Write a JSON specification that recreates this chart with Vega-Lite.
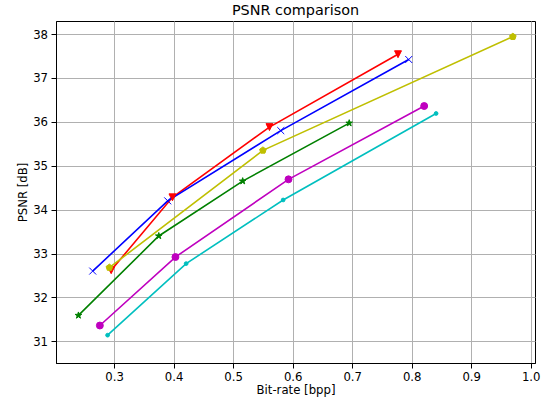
{
  "$schema": "https://vega.github.io/schema/vega-lite/v6.json",
  "width": 546,
  "height": 404,
  "autosize": {"type": "fit", "contains": "padding"},
  "padding": {"left": 17, "top": 2, "right": 6, "bottom": 7},
  "background": "white",
  "title": {"text": "PSNR comparison", "fontSize": 14.4, "fontWeight": "normal", "font": "DejaVu Sans", "color": "black", "offset": 3, "frame": "group"},
  "config": {
    "font": "DejaVu Sans",
    "view": {"stroke": "black", "strokeWidth": 1},
    "axis": {
      "grid": true,
      "gridColor": "#b0b0b0",
      "gridWidth": 1,
      "domainColor": "black",
      "tickColor": "black",
      "tickSize": 5,
      "labelColor": "black",
      "labelFontSize": 11.7,
      "titleColor": "black",
      "titleFontSize": 11.7,
      "titleFontWeight": "normal"
    },
    "legend": {
      "labelFontSize": 12,
      "labelColor": "black",
      "padding": 5,
      "rowPadding": 6,
      "fillColor": "rgba(255,255,255,0.8)",
      "strokeColor": "#cccccc",
      "symbolStrokeWidth": 1,
      "symbolSize": 46
    }
  },
  "data": {
    "values": [
      {"method": "Our", "rank": 1, "bpp": 0.295, "psnr": 32.62},
      {"method": "Our", "rank": 1, "bpp": 0.398, "psnr": 34.28},
      {"method": "Our", "rank": 1, "bpp": 0.561, "psnr": 35.88},
      {"method": "Our", "rank": 1, "bpp": 0.777, "psnr": 37.54},
      {"method": "Zou2022", "rank": 2, "bpp": 0.264, "psnr": 32.6},
      {"method": "Zou2022", "rank": 2, "bpp": 0.39, "psnr": 34.2},
      {"method": "Zou2022", "rank": 2, "bpp": 0.58, "psnr": 35.8},
      {"method": "Zou2022", "rank": 2, "bpp": 0.795, "psnr": 37.42},
      {"method": "Cheng2020", "rank": 3, "bpp": 0.24, "psnr": 31.59},
      {"method": "Cheng2020", "rank": 3, "bpp": 0.375, "psnr": 33.4},
      {"method": "Cheng2020", "rank": 3, "bpp": 0.516, "psnr": 34.65},
      {"method": "Cheng2020", "rank": 3, "bpp": 0.695, "psnr": 35.97},
      {"method": "Minnen2018", "rank": 4, "bpp": 0.276, "psnr": 31.36},
      {"method": "Minnen2018", "rank": 4, "bpp": 0.403, "psnr": 32.92},
      {"method": "Minnen2018", "rank": 4, "bpp": 0.593, "psnr": 34.69},
      {"method": "Minnen2018", "rank": 4, "bpp": 0.821, "psnr": 36.36},
      {"method": "Ballé2018", "rank": 5, "bpp": 0.289, "psnr": 31.14},
      {"method": "Ballé2018", "rank": 5, "bpp": 0.421, "psnr": 32.77},
      {"method": "Ballé2018", "rank": 5, "bpp": 0.584, "psnr": 34.22},
      {"method": "Ballé2018", "rank": 5, "bpp": 0.841, "psnr": 36.19},
      {"method": "VTM", "rank": 6, "bpp": 0.292, "psnr": 32.68},
      {"method": "VTM", "rank": 6, "bpp": 0.55, "psnr": 35.35},
      {"method": "VTM", "rank": 6, "bpp": 0.97, "psnr": 37.94}
    ]
  },
  "layer": [
    {
      "mark": {"type": "line", "strokeWidth": 1.6},
      "encoding": {
        "x": {
          "field": "bpp", "type": "quantitative", "title": "Bit-rate [bpp]",
          "scale": {"domain": [0.2023, 1.0072], "nice": false, "zero": false},
          "axis": {"tickCount": 8, "format": ".1f", "labelPadding": 3, "titlePadding": 2}
        },
        "y": {
          "field": "psnr", "type": "quantitative", "title": "PSNR [dB]",
          "scale": {"domain": [30.506, 38.297], "nice": false, "zero": false},
          "axis": {"tickCount": 8, "format": "d", "labelPadding": 3.5, "titlePadding": 4}
        },
        "color": {
          "field": "method", "type": "nominal",
          "sort": {"field": "rank", "op": "min"},
          "scale": {"range": ["#ff0000", "#0000ff", "#008000", "#bf00bf", "#00bfbf", "#bfbf00"]},
          "legend": null
        }
      }
    },
    {
      "mark": {"type": "point", "filled": true, "strokeWidth": 1, "opacity": 1, "size": 48},
      "encoding": {
        "x": {"field": "bpp", "type": "quantitative"},
        "y": {"field": "psnr", "type": "quantitative"},
        "size": {
          "condition": {"test": "datum.method === 'Ballé2018'", "value": 14},
          "value": 48
        },
        "fill": {
          "field": "method", "type": "nominal", "title": null,
          "sort": {"field": "rank", "op": "min"},
          "scale": {"range": ["#ff0000", "#0000ff", "#008000", "#bf00bf", "#00bfbf", "#bfbf00"]},
          "legend": {"orient": "top-left", "offset": 7}
        },
        "stroke": {
          "field": "method", "type": "nominal", "title": null,
          "sort": {"field": "rank", "op": "min"},
          "scale": {"range": ["#ff0000", "#0000ff", "#008000", "#bf00bf", "#00bfbf", "#bfbf00"]},
          "legend": {"orient": "top-left", "offset": 7}
        },
        "shape": {
          "field": "method", "type": "nominal", "title": null,
          "sort": {"field": "rank", "op": "min"},
          "scale": {"range": ["M-1,-1L1,-1L0,1Z", "M-1,-1L1,1M-1,1L1,-1", "M0,-1L0.2245,-0.309L0.951,-0.309L0.3633,0.118L0.588,0.809L0,0.382L-0.588,0.809L-0.3633,0.118L-0.951,-0.309L-0.2245,-0.309Z", "circle", "circle", "M0,-1L0.951,-0.309L0.588,0.809L-0.588,0.809L-0.951,-0.309Z"]},
          "legend": {"orient": "top-left", "offset": 7}
        }
      }
    }
  ]
}
